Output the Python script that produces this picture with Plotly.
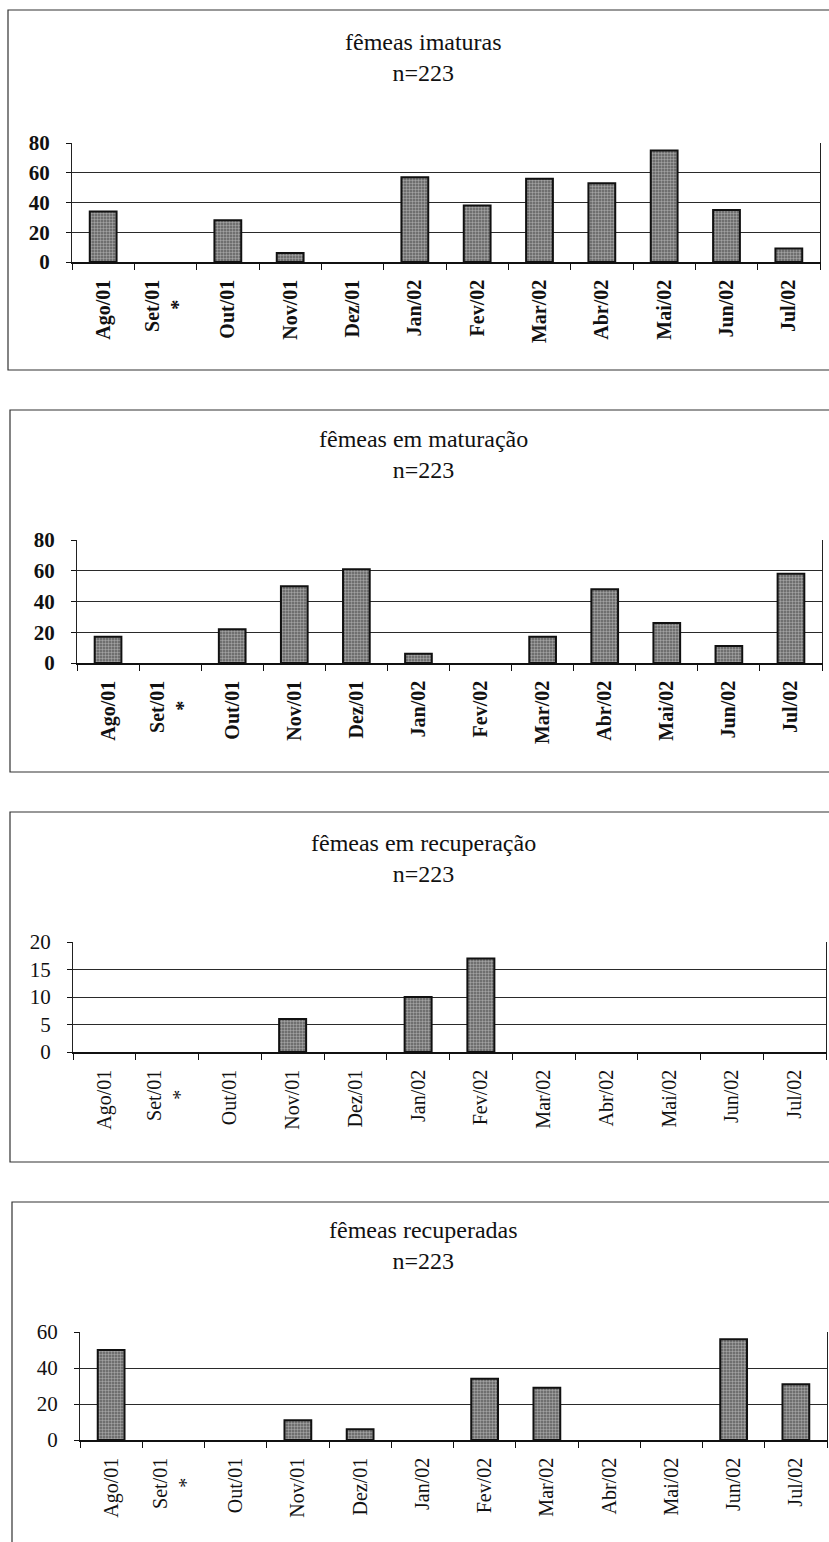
import plotly.graph_objects as go

# Monthly values (%) of females per gonadal stage, Aug/2001 - Jul/2002
months = ["Ago/01", "Set/01", "Out/01", "Nov/01", "Dez/01", "Jan/02",
          "Fev/02", "Mar/02", "Abr/02", "Mai/02", "Jun/02", "Jul/02"]
# Set/01 carries an asterisk (no sampling that month)
month_labels = ["Ago/01", "Set/01<br>*\u00a0\u00a0\u00a0\u00a0", "Out/01", "Nov/01", "Dez/01", "Jan/02",
                "Fev/02", "Mar/02", "Abr/02", "Mai/02", "Jun/02", "Jul/02"]

imaturas = [34, 0, 28, 6, 0, 57, 38, 56, 53, 75, 35, 9]
maturacao = [17, 0, 22, 50, 61, 6, 0, 17, 48, 26, 11, 58]
recuperacao = [0, 0, 0, 6, 0, 10, 17, 0, 0, 0, 0, 0]
recuperadas = [50, 0, 0, 11, 6, 0, 34, 29, 0, 0, 56, 31]

titles = ["fêmeas imaturas", "fêmeas em maturação",
          "fêmeas em recuperação", "fêmeas recuperadas"]
n_total = "n=223"

y_max = [80, 80, 20, 60]
y_step = [20, 20, 5, 20]

W, H = 829, 1542
# pixel layout of each panel: plot area (left, right, top, bottom), frame (left, top, bottom), title top
plot_px = [(72, 820, 143, 262), (77, 822, 540, 663), (73, 826, 942, 1052), (80, 827, 1332, 1440)]
frame_px = [(8, 10, 370), (10, 410, 772), (10, 812, 1162), (12, 1202, 1600)]
title_top = [27, 424, 828, 1215]
bold_ticks = [True, True, False, False]

series = [imaturas, maturacao, recuperacao, recuperadas]

fig = go.Figure()
FONT = "Liberation Serif"

for i, vals in enumerate(series):
    k = i + 1
    xa = "x" if k == 1 else f"x{k}"
    ya = "y" if k == 1 else f"y{k}"
    # empty months get no bar at all
    heights = [v if v > 0 else None for v in vals]
    fig.add_trace(go.Bar(
        x=months, y=heights, xaxis=xa, yaxis=ya,
        marker=dict(
            color="#6a6a6a",
            line=dict(color="#111111", width=2),
            pattern=dict(shape=".", fgcolor="#e6e6e6", bgcolor="#5e5e5e",
                         size=3, solidity=0.5),
        ),
        width=0.43, showlegend=False, hoverinfo="x+y",
    ))
    l, r, t, b = plot_px[i]
    weight = "bold" if bold_ticks[i] else "normal"
    xkey = "xaxis" if k == 1 else f"xaxis{k}"
    ykey = "yaxis" if k == 1 else f"yaxis{k}"
    fig.update_layout(**{
        xkey: dict(
            domain=[l / W, r / W], anchor=ya, automargin=False,
            type="category", categoryorder="array", categoryarray=months,
            tickmode="array", tickvals=months, ticktext=month_labels,
            tickangle=-90, tickson="boundaries", ticks="outside", ticklen=6,
            tickcolor="#111", tickwidth=1, ticklabelstandoff=8,
            showline=True, linecolor="#111", linewidth=1.5,
            showgrid=False, zeroline=False, fixedrange=True,
            tickfont=dict(family=FONT, size=20, color="#111", weight=weight),
        ),
        ykey: dict(
            domain=[1 - b / H, 1 - t / H], anchor=xa, automargin=False,
            range=[0, y_max[i]], dtick=y_step[i], tick0=0,
            ticks="outside", ticklen=5, tickcolor="#111", tickwidth=1,
            ticklabelstandoff=12,
            showline=True, linecolor="#222", linewidth=1, mirror=True,
            showgrid=True, gridcolor="#2a2a2a", gridwidth=1.2,
            zeroline=False, fixedrange=True,
            tickfont=dict(family=FONT, size=21, color="#111", weight=weight),
        ),
    })
    # panel frame (its right edge runs past the page)
    fl, ft, fb = frame_px[i]
    fig.add_shape(type="rect", xref="paper", yref="paper",
                  x0=fl / W, x1=1.05, y0=1 - fb / H, y1=1 - ft / H,
                  line=dict(color="#333333", width=1.2), fillcolor="rgba(0,0,0,0)",
                  layer="below")
    fig.add_annotation(
        xref="paper", yref="paper", x=423 / W, y=1 - title_top[i] / H,
        xanchor="center", yanchor="top", showarrow=False, align="center",
        text=f"{titles[i]}<br>{n_total}",
        font=dict(family=FONT, size=24, color="#111"),
    )

fig.update_layout(
    width=W, height=H, autosize=False,
    margin=dict(l=0, r=0, t=0, b=0, pad=0, autoexpand=False),
    paper_bgcolor="white", plot_bgcolor="white",
    bargap=0.57,
)

fig.write_html("out.html")
